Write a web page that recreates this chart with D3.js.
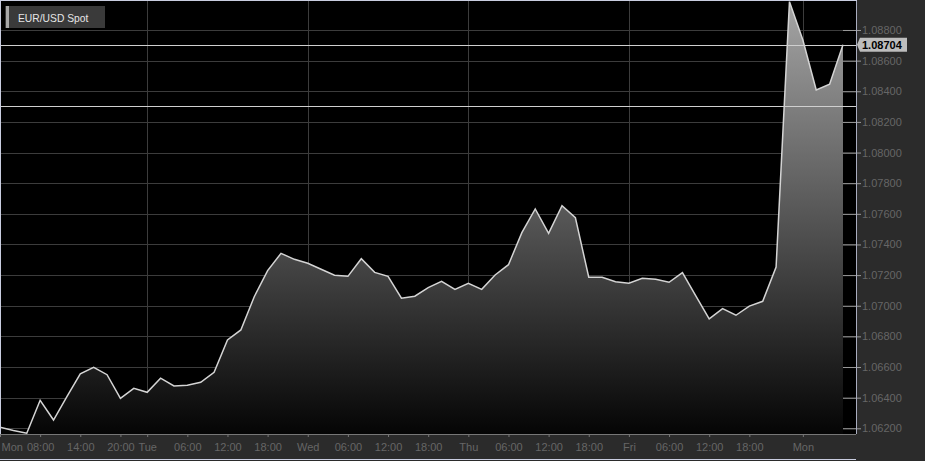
<!DOCTYPE html>
<html>
<head>
<meta charset="utf-8">
<script src="https://cdn.jsdelivr.net/npm/d3@7"></script>
<style>
  html, body { margin: 0; padding: 0; background: #2b2b2b; }
  svg { display: block; font-family: "Liberation Sans", Arial, sans-serif; }
</style>
</head>
<body>
<svg id="chart" width="925" height="461"></svg>
<script>
// ---- data (2-hour spot samples, EUR/USD) ----
const seriesName = "EUR/USD Spot";
const values = [
  1.06207, 1.06185, 1.06168, 1.06383, 1.06254, 1.06406, 1.06555, 1.06598, 1.06550, 1.06396,
  1.06461, 1.06435, 1.06527, 1.06476, 1.06481, 1.06500, 1.06566, 1.06777, 1.06842, 1.07059,
  1.07229, 1.07342, 1.07303, 1.07277, 1.07238, 1.07199, 1.07192, 1.07307, 1.07218, 1.07192,
  1.07049, 1.07062, 1.07118, 1.07160, 1.07107, 1.07147, 1.07107, 1.07201, 1.07268, 1.07477,
  1.07632, 1.07473, 1.07653, 1.07575, 1.07186, 1.07186, 1.07157, 1.07147, 1.07179, 1.07173,
  1.07153, 1.07216, 1.07064, 1.06914, 1.06981, 1.06938, 1.06998, 1.07029, 1.07253, 1.08985,
  1.08735, 1.08408, 1.08446, 1.08704
];
const lastValue = 1.08704;
const refValue = 1.08307;
const xTickLabels = ["Mon","08:00","14:00","20:00","Tue","06:00","12:00","18:00","Wed","06:00","12:00","18:00","Thu","06:00","12:00","18:00","Fri","06:00","12:00","18:00","Mon"];
const xTickIndex  = [0, 3, 6, 9, 11, 14, 17, 20, 23, 26, 29, 32, 35, 38, 41, 44, 47, 50, 53, 56, 60];
const dayIndex    = [11, 23, 35, 47, 60];
const yTickValues = [1.062, 1.064, 1.066, 1.068, 1.070, 1.072, 1.074, 1.076, 1.078, 1.080, 1.082, 1.084, 1.086, 1.088];

// ---- layout ----
const W = 925, H = 461;
const plotR = 856, plotB = 434;
const svg = d3.select("#chart");

const x = d3.scaleLinear().domain([0, values.length - 1]).range([0, 843]);
const y = d3.scaleLinear().domain([1.061628, 1.089958]).range([plotB, 0]);

// backgrounds
svg.append("rect").attr("x", 0).attr("y", 0).attr("width", W).attr("height", H).attr("fill", "#2b2b2b");
svg.append("rect").attr("x", 0).attr("y", 0).attr("width", plotR).attr("height", plotB).attr("fill", "#000");

// gradient
const defs = svg.append("defs");
const grad = defs.append("linearGradient").attr("id", "fillGrad")
  .attr("gradientUnits", "userSpaceOnUse").attr("x1", 0).attr("y1", 0).attr("x2", 0).attr("y2", plotB);
grad.append("stop").attr("offset", 0).attr("stop-color", "#a6a6a6");
grad.append("stop").attr("offset", 1).attr("stop-color", "#050505");
defs.append("clipPath").attr("id", "plotClip").append("rect")
  .attr("x", 0).attr("y", 0).attr("width", plotR).attr("height", plotB);

// gridlines
const grid = svg.append("g").attr("shape-rendering", "crispEdges");
grid.selectAll("line.h").data(yTickValues).join("line").attr("class", "h")
  .attr("x1", 0).attr("x2", plotR)
  .attr("y1", d => Math.round(y(d)) + 0.5).attr("y2", d => Math.round(y(d)) + 0.5)
  .attr("stroke", "#3c3c3c");
grid.selectAll("line.v").data(dayIndex).join("line").attr("class", "v")
  .attr("x1", d => Math.round(x(d)) + 0.5).attr("x2", d => Math.round(x(d)) + 0.5)
  .attr("y1", 0).attr("y2", plotB)
  .attr("stroke", "#3c3c3c");

// area + line
const plot = svg.append("g").attr("clip-path", "url(#plotClip)");
const area = d3.area().x((d, i) => x(i)).y0(plotB).y1(d => y(d));
const line = d3.line().x((d, i) => x(i)).y(d => y(d));
plot.append("path").datum(values).attr("d", area).attr("fill", "url(#fillGrad)");
plot.append("path").datum(values).attr("d", line).attr("fill", "none")
  .attr("stroke", "#d4d4d4").attr("stroke-width", 1.5).attr("stroke-linejoin", "miter");

// reference lines (current & previous)
[lastValue, refValue].forEach(v => {
  svg.append("line").attr("x1", 0).attr("x2", plotR)
    .attr("y1", Math.round(y(v)) + 0.5).attr("y2", Math.round(y(v)) + 0.5)
    .attr("stroke", "#cfcfcf").attr("stroke-width", 1).attr("shape-rendering", "crispEdges");
});

// bottom axis
const xAxis = d3.axisBottom(x).tickValues(xTickIndex).tickSize(3).tickPadding(6)
  .tickFormat((d, i) => xTickLabels[i]);
const gx = svg.append("g").attr("transform", `translate(0,${plotB})`).call(xAxis);
gx.select(".domain").attr("stroke", "#777").attr("d", `M0,0.5H${plotR}`);
gx.selectAll(".tick line").attr("stroke", "#777");
gx.selectAll(".tick text").attr("fill", "#666").attr("font-size", "11px")
  .attr("font-family", "Liberation Sans, Arial, sans-serif");
gx.selectAll(".tick").filter(d => d === 0).select("text").attr("text-anchor", "start").attr("x", 1);

// right axis
const yAxis = d3.axisRight(y).tickValues(yTickValues).tickSize(5).tickPadding(1)
  .tickFormat(d3.format(".5f"));
const gy = svg.append("g").attr("transform", `translate(${plotR},0)`).call(yAxis);
gy.select(".domain").remove();
gy.selectAll(".tick line").attr("stroke", "#9a9a9a").attr("x1", -13);
gy.selectAll(".tick text").attr("fill", "#666").attr("font-size", "11px")
  .attr("font-family", "Liberation Sans, Arial, sans-serif");
svg.append("line").attr("x1", plotR + 0.5).attr("x2", plotR + 0.5).attr("y1", 0).attr("y2", plotB)
  .attr("stroke", "#a9adbf").attr("shape-rendering", "crispEdges");

// borders
svg.append("line").attr("x1", 0).attr("x2", plotR + 1).attr("y1", 0.5).attr("y2", 0.5)
  .attr("stroke", "#c9cde0").attr("shape-rendering", "crispEdges");
svg.append("line").attr("x1", 0.5).attr("x2", 0.5).attr("y1", 0).attr("y2", plotB)
  .attr("stroke", "#c9cde0").attr("shape-rendering", "crispEdges");
svg.append("line").attr("x1", 0).attr("x2", plotR).attr("y1", H - 1.5).attr("y2", H - 1.5)
  .attr("stroke", "#c9cde0").attr("shape-rendering", "crispEdges");

// current value label
const ly = y(lastValue);
svg.append("path")
  .attr("d", `M${plotR + 1},${ly} L${plotR + 4},${ly - 7} H${907} V${ly + 7} H${plotR + 4} Z`)
  .attr("fill", "#bdbdbd");
svg.append("text").attr("x", 862).attr("y", ly + 4)
  .attr("font-size", "11px").attr("font-weight", "bold").attr("fill", "#000")
  .text(d3.format(".5f")(lastValue));

// legend
const lg = svg.append("g");
lg.append("rect").attr("x", 5).attr("y", 6).attr("width", 100).attr("height", 22).attr("fill", "#3a3a3a");
lg.append("rect").attr("x", 6).attr("y", 6).attr("width", 3).attr("height", 22).attr("fill", "#a8a8a8");
lg.append("text").attr("x", 18).attr("y", 21.5).attr("font-size", "10.3px").attr("fill", "#e6e6e6")
  .text(seriesName);
</script>
</body>
</html>
